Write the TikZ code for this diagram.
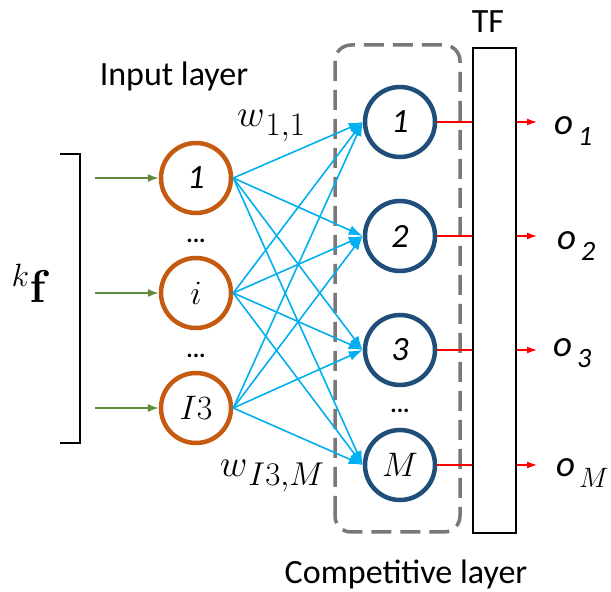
\RequirePackage{fix-cm}
\documentclass[tikz,border=0pt]{standalone}
\usepackage[no-math]{fontspec}
\usepackage{amsmath}
\setmainfont{Carlito}
\usetikzlibrary{arrows.meta}
\definecolor{inColor}{RGB}{197,90,17}
\definecolor{compColor}{RGB}{31,78,121}
\definecolor{wireColor}{RGB}{0,176,240}
\definecolor{feedColor}{RGB}{96,140,60}
\definecolor{outColor}{RGB}{255,0,0}
\definecolor{boxColor}{RGB}{120,120,120}
\newcommand{\bigsub}[1]{\raisebox{-9pt}{\fontsize{33}{36}\selectfont$#1$}}
\newcommand{\outsub}[2]{\textit{o}\kern#1\raisebox{-11pt}{\fontsize{28}{30}\selectfont#2}}
\tikzset{
  inneuron/.style={circle,draw=inColor,line width=4.5pt,fill=white,minimum size=70pt,inner sep=0pt,font=\fontsize{34}{38}\selectfont},
  compneuron/.style={circle,draw=compColor,line width=4.5pt,fill=white,minimum size=70pt,inner sep=0pt,font=\fontsize{34}{38}\selectfont},
  wire/.style={draw=wireColor,line width=1.6pt,-{Latex[length=14pt,width=10pt]}},
  feed/.style={draw=feedColor,line width=1.4pt,-{Latex[length=11pt,width=8pt]}},
  outwire/.style={draw=outColor,line width=1.3pt},
  outlabel/.style={inner sep=0pt,anchor=base west,font=\fontsize{37}{40}\selectfont},
  layertext/.style={inner sep=0pt,font=\fontsize{34}{40}\selectfont},
  dotstext/.style={inner sep=0pt,font=\fontsize{24}{28}\selectfont\bfseries},
  weighttext/.style={inner sep=0pt,font=\fontsize{38}{42}\selectfont},
}
\begin{document}
\begin{tikzpicture}[x=1pt,y=1pt]
\path[use as bounding box,fill=white] (0,0) rectangle (611,592);

% competitive layer frame and transfer function box
\draw[boxColor,line width=3.5pt,dash pattern=on 20pt off 9pt,rounded corners=16pt] (335,60) rectangle (460,547);
\node[draw,line width=1.6pt,minimum width=43pt,minimum height=485pt,inner sep=0pt] (tf) at (494.5,301.5) {};
\node[layertext,anchor=base] (tflabel) at (488,559) {TF};

% input layer
\node[inneuron] (in1) at (196,414) {\textit{1}};
\node[inneuron] (ini) at (196,299) {$i$};
\node[inneuron] (inI) at (196,184) {$I3$};
\node[dotstext] (dotsA) at (196,351) {...};
\node[dotstext] (dotsB) at (196,236) {...};

% competitive layer
\node[compneuron] (c1) at (400,470) {\textit{1}};
\node[compneuron] (c2) at (400,356) {\textit{2}};
\node[compneuron] (c3) at (400,242) {\textit{3}};
\node[compneuron] (cM) at (400,127) {$M$};
\node[dotstext] (dotsC) at (400,181) {...};

% full connections
\foreach \i in {in1,ini,inI}
  \foreach \j in {c1,c2,c3,cM}
    \draw[wire] (\i.east) -- (\j.west);

% feature vector
\draw[line width=1.8pt] (60,438) -- (80,438) -- (80,149) -- (60,149);
\node[inner sep=0pt,anchor=base,font=\fontsize{46}{50}\selectfont] (fvec) at (31,289) {$^k\mathbf{f}$};
\foreach \i in {in1,ini,inI} {
  \coordinate (s\i) at (95,0 |- \i);
  \draw[feed] (s\i) -- (\i.west);
}

% outputs
\node[outlabel] (o1) at (554,457) {\outsub{5pt}{\textit{1}}};
\node[outlabel] (o2) at (557,342) {\outsub{5pt}{\textit{2}}};
\node[outlabel] (o3) at (553,235) {\outsub{5pt}{\textit{3}}};
\node[outlabel] (oM) at (556,115) {\outsub{4pt}{$M$}};
\foreach \j in {c1,c2,c3,cM} {
  \draw[outwire] (\j.east) -- (\j -| tf.west);
  \coordinate (e\j) at (537,0 |- \j);
  \draw[outwire,-{Latex[length=10pt,width=7pt]}] (\j -| tf.east) -- (e\j);
}

% labels
\node[weighttext,anchor=base] (w11) at (271,465) {$w\kern1pt\bigsub{1{,}1}$};
\node[weighttext,anchor=base] (wIM) at (272,115) {$w\kern1pt\bigsub{I3{,}M}$};
\node[layertext] (inlabel) at (174,516) {Input layer};
\node[layertext] (complabel) at (406,18) {Competitive layer};
\end{tikzpicture}
\end{document}
